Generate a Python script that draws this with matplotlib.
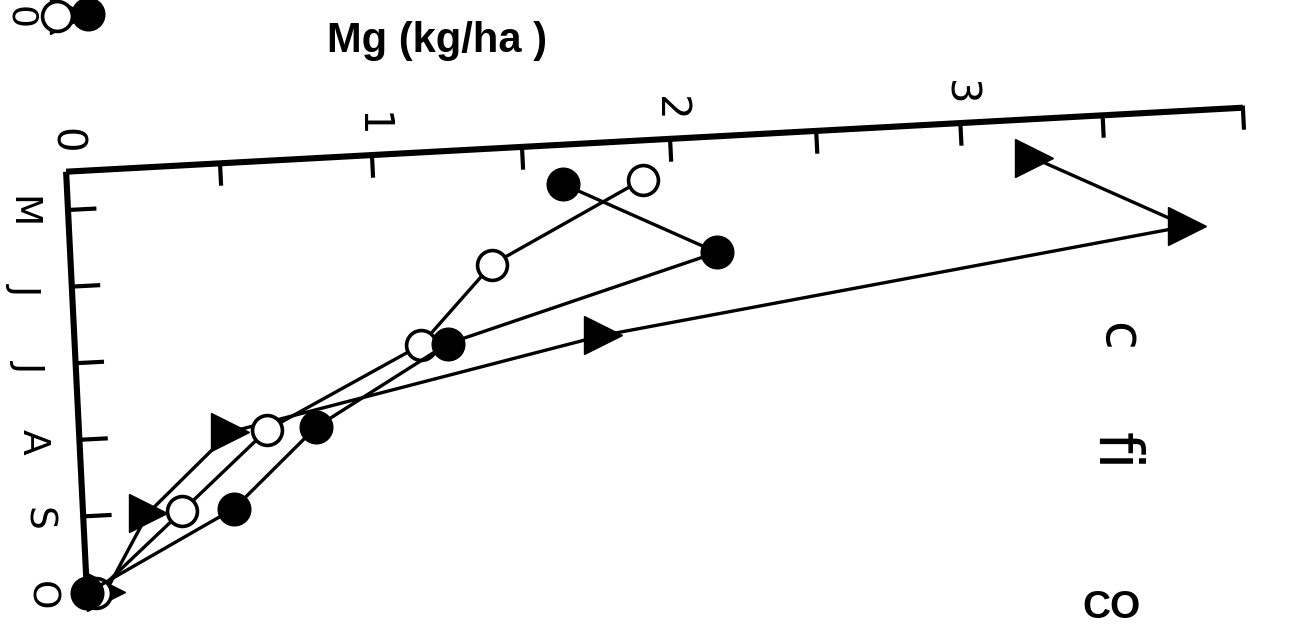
import numpy as np
import matplotlib.pyplot as plt
from matplotlib.transforms import Transform

# monthly Mg (kg/ha), three treatments
months = ["M", "J", "J", "A", "S", "O"]
month_idx = np.arange(len(months))
mg_filled = [1.63, 2.14, 1.22, 0.77, 0.49, 0.00]
mg_open = [1.90, 1.38, 1.13, 0.61, 0.32, 0.03]
mg_tri = [3.25, 3.78, 1.74, 0.49, 0.21, 0.06]

mg_ticks = np.arange(0.5, 4.01, 0.5)
mg_labels = ["0", "1", "2", "3"]

# last (October) values of the panel above, only its bottom edge shows
prev_filled = [0.10]
prev_open = [0.00]
prev_tri = [0.04]


class TiltedPanel(Transform):
    # page is turned a quarter clockwise and slightly skewed:
    # months run down the page, Mg runs across
    input_dims = 2
    output_dims = 2
    is_separable = False
    has_inverse = False

    def __init__(self, dx=0.0, dy=0.0):
        super().__init__()
        self.dx = dx
        self.dy = dy

    def transform_non_affine(self, values):
        values = np.asarray(values, dtype=float)
        m = values[:, 0]
        g = values[:, 1]
        px = 68 + 3.8 * m + 309.8 * g - 3.9 * g ** 2 + self.dx
        py = 210 + 76.6 * m - 16.0 * g + self.dy
        return np.column_stack([px, py])


fig = plt.figure(figsize=(13.03, 6.41), dpi=100)
ax = fig.add_axes([0, 0, 1, 1])
ax.set_xlim(0, 1303)
ax.set_ylim(641, 0)
ax.set_autoscale_on(False)
ax.axis("off")

tr = TiltedPanel() + ax.transData
tr_prev = TiltedPanel(-30, -577) + ax.transData

# axes frame
ax.plot([-0.5, -0.5], [0, 4], color="k", lw=4.4, transform=tr, solid_capstyle="butt")
ax.plot([-0.5, 5], [0, 0], color="k", lw=4.4, transform=tr, solid_capstyle="butt")
for t in mg_ticks:
    ax.plot([-0.5, -0.24], [t, t], color="k", lw=3.0, transform=tr)
for m in month_idx[:-1]:
    ax.plot([m, m], [0, 0.085], color="k", lw=3.0, transform=tr)

thin = dict(family=["Liberation Sans Narrow", "DejaVu Sans"], rotation=-90,
            ha="center", va="center", color="k")
for i, lab in enumerate(mg_labels):
    ax.text(-0.9, float(i), lab, fontsize=29, transform=tr, **thin)
for m, lab in zip(month_idx, months):
    ax.text(m, -0.15, lab, fontsize=27, transform=tr, **thin)

# series
ax.plot(month_idx, mg_tri, color="k", lw=2.4, marker=">", ms=27,
        mfc="k", mec="k", transform=tr, zorder=3)
ax.plot(month_idx, mg_open, color="k", lw=2.4, marker="o", ms=21.5,
        mfc="white", mec="k", mew=2.6, transform=tr, zorder=4)
ax.plot(month_idx, mg_filled, color="k", lw=2.4, marker="o", ms=23.5,
        mfc="k", mec="k", transform=tr, zorder=5)

# bottom of the panel above
ax.plot([5], prev_tri, ls="none", marker=">", ms=27, color="k", transform=tr_prev, zorder=3)
ax.plot([5], prev_open, ls="none", marker="o", ms=21.5, mfc="white", mec="k",
        mew=2.6, transform=tr_prev, zorder=4)
ax.plot([5], prev_filled, ls="none", marker="o", ms=23.5, color="k", transform=tr_prev, zorder=5)
ax.text(5, -0.12, "0", fontsize=26, transform=tr_prev, **thin)

# labels
bold = dict(family=["Liberation Sans", "DejaVu Sans"], fontweight="bold", color="k")
ax.text(437, 41, "Mg (kg/ha )", fontsize=30, ha="center", va="center", **bold)
ax.text(1112, 608, "CO", fontsize=28, ha="center", va="center", **bold)
ax.text(1118, 337, "c", fontsize=38, **thin)
ax.text(1114, 451, "fi", fontsize=44, **thin)

fig.savefig("out.png", dpi=100)
